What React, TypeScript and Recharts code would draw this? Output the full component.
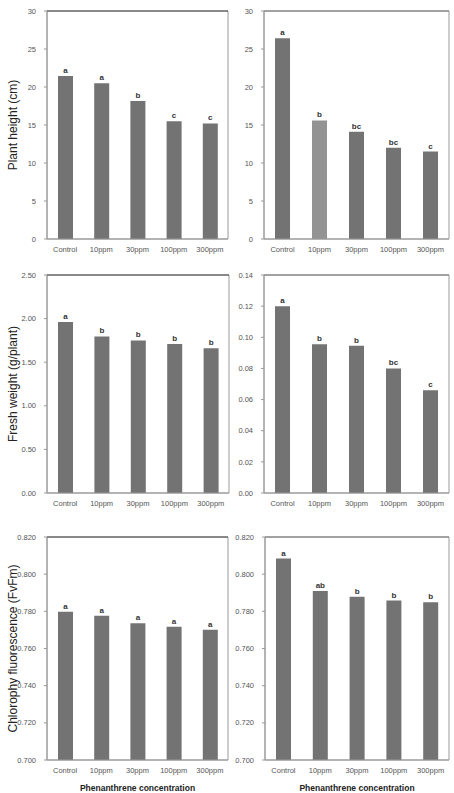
import React from "react";
import {
  BarChart,
  Bar,
  XAxis,
  YAxis,
  Cell,
  LabelList,
  ReferenceArea,
  ReferenceLine,
} from "recharts";

const categories = ["Control", "10ppm", "30ppm", "100ppm", "300ppm"];

const heightLeft = [21.45, 20.5, 18.15, 15.5, 15.2];
const heightLeftSig = ["a", "a", "b", "c", "c"];
const heightRight = [26.4, 15.6, 14.1, 12.0, 11.5];
const heightRightSig = ["a", "b", "bc", "bc", "c"];

const weightLeft = [1.96, 1.795, 1.75, 1.71, 1.66];
const weightLeftSig = ["a", "b", "b", "b", "b"];
const weightRight = [0.12, 0.0955, 0.0945, 0.08, 0.066];
const weightRightSig = ["a", "b", "b", "bc", "c"];

const fluorLeft = [0.7798, 0.7776, 0.7736, 0.7717, 0.7701];
const fluorLeftSig = ["a", "a", "a", "a", "a"];
const fluorRight = [0.8084, 0.791, 0.7879, 0.7858, 0.7849];
const fluorRightSig = ["a", "ab", "b", "b", "b"];

const heightTicks = [0, 5, 10, 15, 20, 25, 30];
const weightLeftTicks = [0, 0.5, 1, 1.5, 2, 2.5];
const weightRightTicks = [0, 0.02, 0.04, 0.06, 0.08, 0.1, 0.12, 0.14];
const fluorTicks = [0.7, 0.72, 0.74, 0.76, 0.78, 0.8, 0.82];

const FONT = "'Liberation Sans', Arial, sans-serif";
const BAR = "#737373";
const BAR_LIGHT = "#939393";
const FRAME = "#9a9a9a";

type PanelProps = {
  x: number;
  y: number;
  w: number;
  h: number;
  axisW: number;
  values: number[];
  sig: string[];
  ticks: number[];
  digits: number;
  yLabel?: string;
  xTitle?: boolean;
  lightIndex?: number;
  topColor: string;
};

function Panel({
  x,
  y,
  w,
  h,
  axisW,
  values,
  sig,
  ticks,
  digits,
  yLabel,
  xTitle,
  lightIndex,
  topColor,
}: PanelProps) {
  const data = categories.map((name, i) => ({ name, value: values[i], sig: sig[i] }));
  const mt = 10;
  const xh = xTitle ? 33 : 20;
  const lo = ticks[0];
  const hi = ticks[ticks.length - 1];
  return (
    <div style={{ position: "absolute", left: x - axisW, top: y - mt }}>
      <BarChart
        width={axisW + w + 4}
        height={mt + h + xh}
        data={data}
        margin={{ top: mt, right: 4, left: 0, bottom: 0 }}
        style={{ fontFamily: FONT }}
      >
        <XAxis
          dataKey="name"
          height={xh}
          tickLine={false}
          tickSize={0}
          tickMargin={8}
          axisLine={{ stroke: FRAME }}
          tick={{ fontSize: 7.5, fill: "#555" }}
          interval={0}
          label={
            xTitle
              ? {
                  value: "Phenanthrene concentration",
                  position: "insideBottom",
                  offset: 2,
                  style: { fontSize: 8.5, fontWeight: 700, fill: "#222" },
                }
              : undefined
          }
        />
        <YAxis
          width={axisW}
          domain={[lo, hi]}
          ticks={ticks}
          allowDataOverflow
          tickFormatter={(v: number) => v.toFixed(digits)}
          tickSize={3}
          tickMargin={8}
          tickLine={{ stroke: FRAME }}
          axisLine={{ stroke: FRAME }}
          tick={{ fontSize: 7.5, fill: "#555" }}
          label={
            yLabel
              ? {
                  value: yLabel,
                  angle: -90,
                  position: "insideLeft",
                  offset: 13,
                  style: { textAnchor: "middle", fontSize: 12, fill: "#222" },
                }
              : undefined
          }
        />
        <ReferenceArea y1={lo} y2={hi} fill="none" stroke={FRAME} ifOverflow="visible" />
        <ReferenceLine y={hi} stroke={topColor} ifOverflow="visible" />
        <Bar dataKey="value" barSize={15} isAnimationActive={false}>
          {data.map((_, i) => (
            <Cell key={i} fill={i === lightIndex ? BAR_LIGHT : BAR} />
          ))}
          <LabelList
            dataKey="sig"
            position="top"
            offset={3}
            style={{ fontSize: 8, fontWeight: 700, fill: "#333" }}
          />
        </Bar>
      </BarChart>
    </div>
  );
}

export default function App() {
  return (
    <div
      style={{
        position: "absolute",
        left: 0,
        top: 0,
        width: 454,
        height: 793,
        background: "#fff",
        overflow: "hidden",
      }}
    >
      <Panel x={47} y={11} w={181} h={228} axisW={47} values={heightLeft} sig={heightLeftSig} ticks={heightTicks} digits={0} yLabel="Plant height (cm)" topColor="#444" />
      <Panel x={264} y={11} w={185} h={228} axisW={35} values={heightRight} sig={heightRightSig} ticks={heightTicks} digits={0} lightIndex={1} topColor="#777" />
      <Panel x={47} y={275} w={182} h={218} axisW={47} values={weightLeft} sig={weightLeftSig} ticks={weightLeftTicks} digits={2} yLabel="Fresh weight (g/plant)" topColor="#444" />
      <Panel x={264} y={275} w={185} h={218} axisW={35} values={weightRight} sig={weightRightSig} ticks={weightRightTicks} digits={2} topColor="#777" />
      <Panel x={47} y={537} w={181} h={223} axisW={47} values={fluorLeft} sig={fluorLeftSig} ticks={fluorTicks} digits={3} yLabel="Chlorophy fluorescence (FvFm)" xTitle topColor="#444" />
      <Panel x={265} y={537} w={184} h={223} axisW={36} values={fluorRight} sig={fluorRightSig} ticks={fluorTicks} digits={3} xTitle topColor="#777" />
    </div>
  );
}
